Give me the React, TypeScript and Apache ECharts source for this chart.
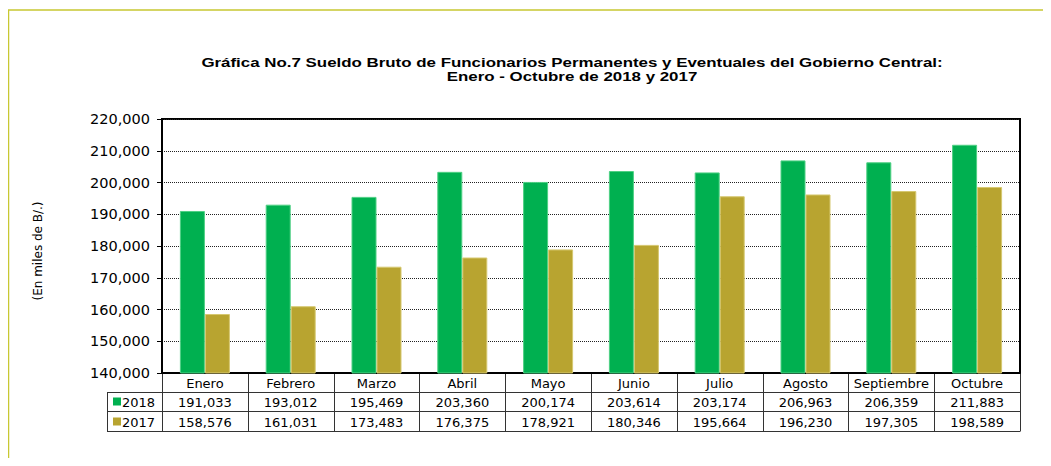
import React, { useEffect, useRef } from "react";
import * as echarts from "echarts";

const categories = ["Enero", "Febrero", "Marzo", "Abril", "Mayo", "Junio", "Julio", "Agosto", "Septiembre", "Octubre"];
const values2018 = [191033, 193012, 195469, 203360, 200174, 203614, 203174, 206963, 206359, 211883];
const values2017 = [158576, 161031, 173483, 176375, 178921, 180346, 195664, 196230, 197305, 198589];
const seriesNames = ["2018", "2017"];
const titleLines = [
  "Gráfica No.7 Sueldo Bruto de Funcionarios Permanentes y Eventuales del Gobierno Central:",
  "Enero - Octubre de 2018 y 2017",
];
const yAxisName = "(En miles de B/.)";

const GREEN = "#00B050";
const GOLD = "#B8A430";
const FONT = "'DejaVu Sans', sans-serif";
const TITLE_FONT = "'Liberation Sans', Arial, sans-serif";

const fmt = (v: number) => v.toLocaleString("en-US");

export default function App() {
  const ref = useRef<HTMLDivElement>(null);
  useEffect(() => {
    if (!ref.current) return;
    const chart = echarts.init(ref.current, null, { renderer: "svg" });
    const GL = 154, GT = 111, GW = 858, GH = 254;
    const GB = GT + GH;
    const R1 = GB + 19, R2 = R1 + 19, R3 = R2 + 20;
    const LC = 99;
    const cw = GW / categories.length;
    const graphics: any[] = [];
    graphics.push({
      type: "rect",
      shape: { x: 0.5, y: 2, width: 1200, height: 600 },
      style: { fill: "none", stroke: "#c8c832", lineWidth: 1.5 },
      silent: true,
    });
    titleLines.forEach((t, i) => {
      graphics.push({
        type: "text",
        x: 564,
        y: 54 + i * 14,
        scaleX: 1.3,
        style: { text: t, font: `bold 13px ${TITLE_FONT}`, fill: "#000", textAlign: "center", textVerticalAlign: "middle" },
      });
    });
    graphics.push({
      type: "text",
      x: 30,
      y: 243,
      rotation: Math.PI / 2,
      style: { text: yAxisName, font: `12px ${FONT}`, fill: "#000", textAlign: "center", textVerticalAlign: "middle" },
    });
    const lineStyle = { stroke: "#333", lineWidth: 1 };
    [R1, R2, R3].forEach((y) => {
      graphics.push({ type: "line", shape: { x1: LC, y1: y + 0.5, x2: GL + GW, y2: y + 0.5 }, style: lineStyle });
    });
    for (let i = 0; i <= categories.length; i++) {
      const x = Math.round(GL + i * cw) + 0.5;
      graphics.push({ type: "line", shape: { x1: x, y1: GB, x2: x, y2: R3 + 0.5 }, style: lineStyle });
    }
    graphics.push({ type: "line", shape: { x1: LC + 0.5, y1: R1, x2: LC + 0.5, y2: R3 + 0.5 }, style: lineStyle });
    const rows = [
      { y: (R1 + R2) / 2, color: GREEN, name: seriesNames[0], vals: values2018 },
      { y: (R2 + R3) / 2 + 0.5, color: GOLD, name: seriesNames[1], vals: values2017 },
    ];
    rows.forEach((r) => {
      graphics.push({ type: "rect", shape: { x: LC + 6, y: r.y - 4, width: 8, height: 8 }, style: { fill: r.color } });
      graphics.push({
        type: "text",
        x: LC + 15,
        y: r.y + 1,
        style: { text: r.name, font: `13px ${FONT}`, fill: "#000", textAlign: "left", textVerticalAlign: "middle" },
      });
      r.vals.forEach((v, i) => {
        graphics.push({
          type: "text",
          x: GL + (i + 0.5) * cw,
          y: r.y + 1,
          style: { text: fmt(v), font: `13px ${FONT}`, fill: "#000", textAlign: "center", textVerticalAlign: "middle" },
        });
      });
    });

    chart.setOption({
      animation: false,
      grid: { left: GL, top: GT, width: GW, height: GH, show: true, borderColor: "#000", borderWidth: 2, backgroundColor: "#fff" },
      xAxis: {
        type: "category",
        data: categories,
        axisLine: { show: true, lineStyle: { color: "#000", width: 2 } },
        axisTick: { show: false },
        axisLabel: { color: "#000", fontSize: 13, fontFamily: FONT, margin: 4, interval: 0 },
      },
      yAxis: {
        type: "value",
        min: 140000,
        max: 220000,
        interval: 10000,
        axisLine: { show: true, lineStyle: { color: "#000", width: 2 } },
        axisTick: { show: true, length: 5, lineStyle: { color: "#000" } },
        axisLabel: { color: "#000", fontSize: 14.5, fontFamily: FONT, margin: 12, formatter: (v: number) => fmt(v) },
        splitLine: { show: true, lineStyle: { color: "#222", type: [1, 1], width: 1 } },
      },
      series: [
        {
          name: seriesNames[0],
          type: "bar",
          data: values2018,
          barWidth: 25,
          barGap: "0%",
          itemStyle: { color: GREEN, borderColor: "#4fd084", borderWidth: 1 },
        },
        {
          name: seriesNames[1],
          type: "bar",
          data: values2017,
          barWidth: 25,
          barGap: "0%",
          itemStyle: { color: GOLD, borderColor: "#d6c870", borderWidth: 1 },
        },
      ],
      graphic: graphics,
    });
    return () => chart.dispose();
  }, []);
  return <div ref={ref} style={{ width: 1035, height: 450 }} />;
}
